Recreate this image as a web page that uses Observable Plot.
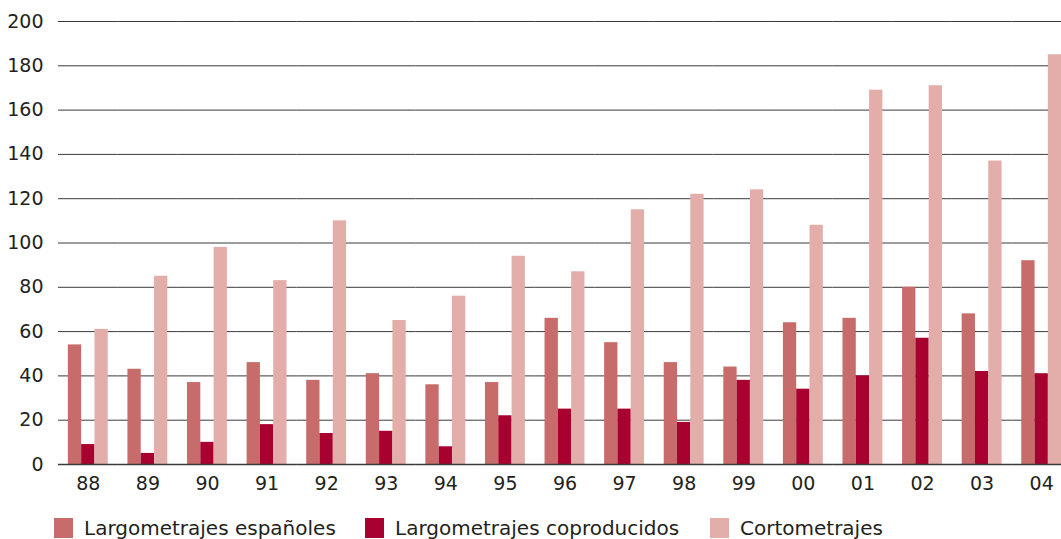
<!DOCTYPE html>
<html>
<head>
<meta charset="utf-8">
<script src="https://cdn.jsdelivr.net/npm/d3@7"></script>
<script src="https://cdn.jsdelivr.net/npm/@observablehq/plot@0.6"></script>
<style>
  html, body { margin: 0; padding: 0; background: #fff; }
  #wrap { position: relative; width: 1061px; height: 539px; overflow: hidden; font-family: "DejaVu Sans", sans-serif; color: #231f20; }
  #chart svg { display: block; max-width: none !important; }
  .leg { position: absolute; top: 518px; display: flex; align-items: center; font-size: 20px; line-height: 20px; white-space: nowrap; }
  .sw { width: 19px; height: 20px; margin-right: 11px; }
</style>
</head>
<body>
<div id="wrap">
  <div id="chart"></div>
  <div id="legend"></div>
</div>
<script>
const years = ["88","89","90","91","92","93","94","95","96","97","98","99","00","01","02","03","04"];
const espanoles    = [54, 43, 37, 46, 38, 41, 36, 37, 66, 55, 46, 44, 64, 66, 80, 68, 92];
const coproducidos = [ 9,  5, 10, 18, 14, 15,  8, 22, 25, 25, 19, 38, 34, 40, 57, 42, 41];
const cortometrajes= [61, 85, 98, 83,110, 65, 76, 94, 87,115,122,124,108,169,171,137,185];
const seriesNames = ["Largometrajes españoles", "Largometrajes coproducidos", "Cortometrajes"];
const seriesColors = ["#c76c6b", "#a8002f", "#e3aeaa"];
const yTicks = [0, 20, 40, 60, 80, 100, 120, 140, 160, 180, 200];
const legendLeft = [54, 365, 710];

const seriesValues = [espanoles, coproducidos, cortometrajes];
const data = years.flatMap((year, i) =>
  seriesNames.map((serie, s) => ({year, serie, value: seriesValues[s][i]}))
);

const chart = Plot.plot({
  width: 1071,
  height: 505,
  marginLeft: 58,
  marginRight: 0,
  marginTop: 21,
  marginBottom: 41,
  style: {fontFamily: "DejaVu Sans, sans-serif", fontSize: "19px", color: "#231f20", background: "#fff", maxWidth: "none"},
  fx: {domain: years, padding: 0, round: false, label: null},
  x: {domain: seriesNames, paddingInner: 0, paddingOuter: 0.74, round: false, axis: null},
  y: {domain: [0, 200], label: null},
  color: {domain: seriesNames, range: seriesColors},
  marks: [
    Plot.gridY(yTicks, {stroke: "#3a3a3a", strokeOpacity: 1, strokeWidth: 1}),
    Plot.barY(data, {fx: "year", x: "serie", y: "value", fill: "serie"}),
    Plot.ruleY([0], {stroke: "#3a3a3a", strokeWidth: 1.3}),
    Plot.axisY(yTicks, {tickSize: 0, tickPadding: 15, label: null}),
    Plot.axisFx({anchor: "bottom", tickSize: 0, tickPadding: 12, label: null})
  ]
});
document.getElementById("chart").appendChild(chart);

const legend = document.getElementById("legend");
seriesNames.forEach((name, i) => {
  const item = document.createElement("div");
  item.className = "leg";
  item.style.left = legendLeft[i] + "px";
  const sw = document.createElement("div");
  sw.className = "sw";
  sw.style.background = seriesColors[i];
  const t = document.createElement("span");
  t.textContent = name;
  item.appendChild(sw);
  item.appendChild(t);
  legend.appendChild(item);
});
</script>
</body>
</html>
